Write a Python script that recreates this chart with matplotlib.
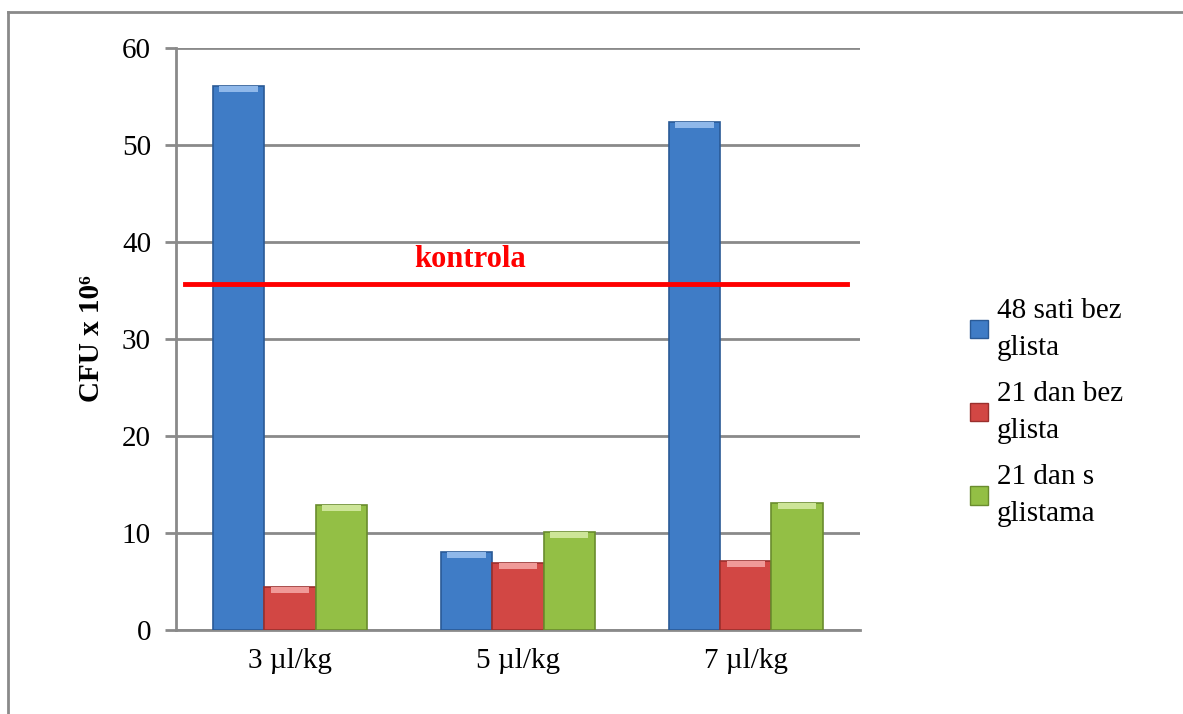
import matplotlib.pyplot as plt
import numpy as np
from matplotlib.lines import Line2D
from matplotlib.patches import Patch

# CFU counts (x 10^6) per dose and sampling condition
doses = ["3 µl/kg", "5 µl/kg", "7 µl/kg"]
series_names = ["48 sati bez\nglista", "21 dan bez\nglista", "21 dan s\nglistama"]
h48_bez = [56.1, 8.0, 52.4]
d21_bez = [4.4, 6.9, 7.1]
d21_s = [12.9, 10.1, 13.1]
kontrola = 35.7
y_ticks = [0, 10, 20, 30, 40, 50, 60]

colors = ["#3f7cc6", "#d24744", "#93bf45"]
edges = ["#2a5a96", "#9a2f2d", "#6a8c2e"]
tops = ["#8fb8ea", "#f09a98", "#cde598"]

plt.rcParams["font.family"] = ["Liberation Serif", "DejaVu Serif"]

fig = plt.figure(figsize=(11.83, 7.14), dpi=100)
ax = fig.add_axes([0.1488, 0.1176, 0.578, 0.8152])

x = np.arange(len(doses))
w = 0.225
for i, vals in enumerate([h48_bez, d21_bez, d21_s]):
    pos = x + (i - 1) * w
    ax.bar(pos, vals, width=w, color=colors[i], edgecolor=edges[i],
           linewidth=1.2, zorder=3)
    # light bevel strip on top of each bar
    cap = np.full(len(vals), 0.6)
    ax.bar(pos, cap, bottom=np.array(vals) - cap, width=w * 0.75,
           color=tops[i], linewidth=0, zorder=4)

ax.axhline(kontrola, xmin=0.013, xmax=0.982, color="#ff0000", lw=3.5, zorder=5)
ax.text(0.79, kontrola + 1.0, "kontrola", color="#ff0000",
        fontsize=22, fontweight="bold", ha="center", va="bottom", zorder=6)

ax.set_xlim(-0.5, 2.5)
ax.set_ylim(0, 60)
ax.set_yticks(y_ticks)
ax.set_xticks(x)
ax.set_xticklabels(doses)
ax.yaxis.grid(True, color="#8a8a8a", lw=2)
ax.set_axisbelow(True)
for s in ["top", "right"]:
    ax.spines[s].set_visible(False)
ax.spines["left"].set_color("#8a8a8a")
ax.spines["left"].set_linewidth(2)
ax.spines["bottom"].set_color("#8a8a8a")
ax.spines["bottom"].set_linewidth(2)
ax.tick_params(axis="y", length=8, width=2, color="#8a8a8a", labelsize=21, pad=10)
ax.tick_params(axis="x", length=0, labelsize=21, pad=13)
ax.set_ylabel("CFU x 10⁶", fontsize=21, fontweight="bold", labelpad=12)

handles = [Patch(facecolor=c, edgecolor=e) for c, e in zip(colors, edges)]
leg = fig.legend(handles, series_names, loc="upper left", bbox_to_anchor=(0.798, 0.62),
                 frameon=False, fontsize=21, handlelength=0.6, handleheight=0.6,
                 handletextpad=0.3, labelspacing=0.7)
for t in leg.get_texts():
    t.set_linespacing(1.55)

# outer chart border
fig.add_artist(Line2D([0.007, 0.007], [0.0, 0.983], transform=fig.transFigure,
                      color="#8a8a8a", lw=2))
fig.add_artist(Line2D([0.007, 1.0], [0.983, 0.983], transform=fig.transFigure,
                      color="#8a8a8a", lw=2))

fig.savefig("out.png", dpi=100)
